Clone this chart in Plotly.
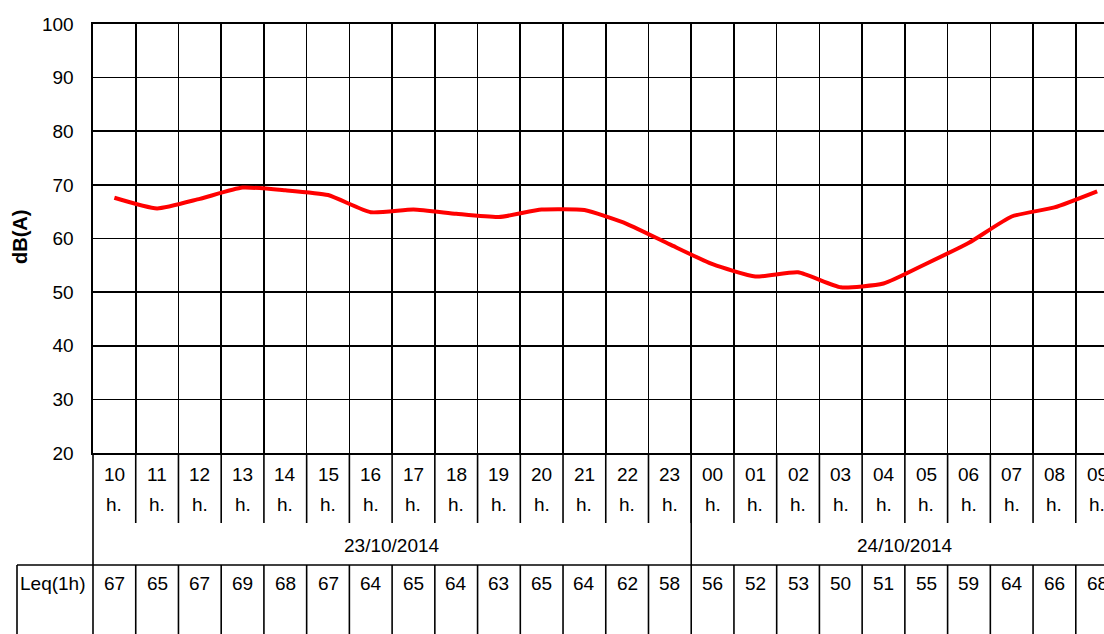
import plotly.graph_objects as go

# ---- data ----
hours = ["10", "11", "12", "13", "14", "15", "16", "17", "18", "19", "20", "21",
         "22", "23", "00", "01", "02", "03", "04", "05", "06", "07", "08", "09"]
level_line = [67.6, 65.6, 67.4, 69.5, 69.0, 68.1, 64.9, 65.4, 64.6, 64.0, 65.4, 65.3,
              62.7, 58.9, 55.2, 52.9, 53.7, 50.9, 51.6, 55.3, 59.2, 64.1, 65.8, 68.8]
leq_table = [67, 65, 67, 69, 68, 67, 64, 65, 64, 63, 65, 64,
             62, 58, 56, 52, 53, 50, 51, 55, 59, 64, 66, 68]
dates = ["23/10/2014", "24/10/2014"]
date_counts = [14, 10]
row_label = "Leq(1h)"
hour_suffix = "h."
y_title = "dB(A)"
y_ticks = [20, 30, 40, 50, 60, 70, 80, 90, 100]

# ---- layout constants ----
W, H = 1104, 634
ML, MR, MT, MB = 93, 0, 24, 181
PW = W - ML - MR
PH = H - MT - MB
FONT = "Liberation Sans, Arial"
FS = 19
LC = "#000000"
LW = 1.6


def py(p):
    return (H - MB - p) / PH


def px(p):
    return (p - ML) / PW


x_idx = list(range(len(hours)))
span = PW / 42.73
x_range = [-0.5, -0.5 + span]

fig = go.Figure()
fig.add_trace(go.Scatter(
    x=x_idx, y=level_line, mode="lines",
    line=dict(color="#ff0000", width=4, shape="spline", smoothing=0.5),
    hoverinfo="skip", showlegend=False,
))

shapes = []
annotations = []

y_hour_bot = py(523)
y_date_bot = py(565)
y_table_bot = py(660)

for i in range(len(hours) - 1):
    b = i + 0.5
    shapes.append(dict(type="line", xref="x", yref="paper", x0=b, x1=b,
                       y0=0, y1=y_hour_bot, line=dict(color=LC, width=LW)))
    shapes.append(dict(type="line", xref="x", yref="paper", x0=b, x1=b,
                       y0=y_date_bot, y1=y_table_bot, line=dict(color=LC, width=LW)))

shapes.append(dict(type="line", xref="paper", yref="paper", x0=0, x1=0,
                   y0=0, y1=y_table_bot, line=dict(color=LC, width=LW)))
start = 0
for c in date_counts[:-1]:
    start += c
    b = start - 0.5
    shapes.append(dict(type="line", xref="x", yref="paper", x0=b, x1=b,
                       y0=0, y1=y_date_bot, line=dict(color=LC, width=LW)))
shapes.append(dict(type="line", xref="paper", yref="paper", x0=px(17), x1=1,
                   y0=y_date_bot, y1=y_date_bot, line=dict(color=LC, width=LW)))
shapes.append(dict(type="line", xref="paper", yref="paper", x0=px(17), x1=px(17),
                   y0=y_date_bot, y1=y_table_bot, line=dict(color=LC, width=LW)))

font = dict(family=FONT, size=FS, color=LC)
for i, h in enumerate(hours):
    annotations.append(dict(x=i, y=py(474), xref="x", yref="paper", text=h,
                            showarrow=False, font=font,
                            xanchor="center", yanchor="middle"))
    annotations.append(dict(x=i, y=py(504), xref="x", yref="paper", text=hour_suffix,
                            showarrow=False, font=font,
                            xanchor="center", yanchor="middle"))
    annotations.append(dict(x=i, y=py(583), xref="x", yref="paper",
                            text=str(leq_table[i]), showarrow=False, font=font,
                            xanchor="center", yanchor="middle"))

start = 0
for d, c in zip(dates, date_counts):
    mid = start - 0.5 + c / 2
    annotations.append(dict(x=mid, y=py(545), xref="x", yref="paper",
                            text=d, showarrow=False, font=font,
                            xanchor="center", yanchor="middle"))
    start += c

annotations.append(dict(x=px(18), y=py(583), xref="paper", yref="paper",
                        text=row_label, showarrow=False, font=font,
                        xanchor="left", yanchor="middle"))

annotations.append(dict(x=px(20), y=py(237), xref="paper", yref="paper",
                        text=f"<b>{y_title}</b>", showarrow=False, textangle=-90,
                        font=dict(family="Liberation Sans, Arial", size=20, color=LC),
                        xanchor="center", yanchor="middle"))

fig.update_layout(
    width=W, height=H,
    margin=dict(l=ML, r=MR, t=MT, b=MB, pad=0),
    paper_bgcolor="white", plot_bgcolor="white",
    showlegend=False,
    shapes=shapes, annotations=annotations,
    xaxis=dict(range=x_range, tick0=-0.5, dtick=1, tickmode="linear",
               showgrid=True, gridcolor=LC, gridwidth=LW,
               showticklabels=False, ticks="", zeroline=False,
               showline=True, linecolor=LC, linewidth=LW, mirror=True,
               fixedrange=True),
    yaxis=dict(range=[20, 100], tickvals=y_ticks, ticktext=[str(v) for v in y_ticks],
               showgrid=True, gridcolor=LC, gridwidth=LW, zeroline=False,
               showline=True, linecolor=LC, linewidth=LW, ticks="",
               ticklabelstandoff=14,
               tickfont=font, fixedrange=True),
)

fig.write_html("out.html",
               config={"displayModeBar": False, "staticPlot": True},
               post_script="document.body.style.margin='0';document.body.style.overflow='hidden';")
